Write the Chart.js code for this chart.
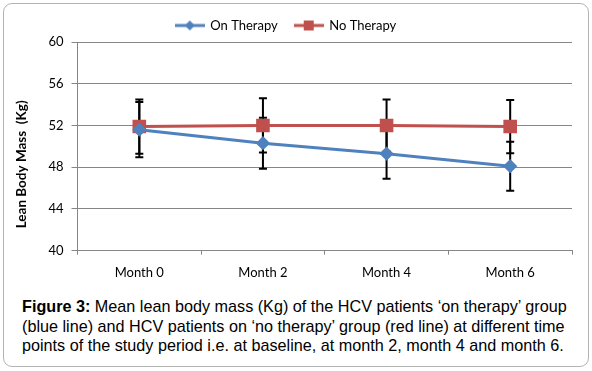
<!DOCTYPE html>
<html>
<head>
<meta charset="utf-8">
<script src="https://cdn.jsdelivr.net/npm/chart.js@4.4.1/dist/chart.umd.min.js"></script>
<style>
  body { margin: 0; background: #fff; width: 592px; height: 371px; position: relative; overflow: hidden; }
  #frame { position: absolute; left: 3px; top: 3px; width: 584px; height: 362px; border: 1px solid #b4b4b4; border-radius: 9px; }
  #chartBox { position: absolute; left: 0; top: 0; width: 592px; height: 295px; }
  #caption { position: absolute; left: 22px; top: 297px; width: 560px; font-family: "Liberation Sans", Arial, sans-serif; font-size: 16.2px; line-height: 19.5px; color: #000; }
</style>
</head>
<body>
<div id="frame"></div>
<div id="chartBox"><canvas id="lbmChart"></canvas></div>
<div id="caption"><b>Figure 3:</b> Mean lean body mass (Kg) of the HCV patients ‘on therapy’ group (blue line) and HCV patients on ‘no therapy’ group (red line) at different time points of the study period i.e. at baseline, at month 2, month 4 and month 6.</div>
<script>
const months = ['Month 0', 'Month 2', 'Month 4', 'Month 6'];
const onTherapy = [51.6, 50.3, 49.3, 48.1];
const onTherapyErr = [2.65, 2.45, 2.4, 2.35];
const noTherapy = [51.9, 52.0, 52.0, 51.9];
const noTherapyErr = [2.6, 2.6, 2.5, 2.55];
const yTitle = 'Lean Body Mass  (Kg)';

const blue = '#4F81BD';
const red = '#C0504D';
const gridGray = '#868686';

// small line+marker pictures for the legend (excel style)
function legendIcon(color, shape) {
    const c = document.createElement('canvas');
    c.width = 30;
    c.height = 12;
    const g = c.getContext('2d');
    g.strokeStyle = color;
    g.lineWidth = 3;
    g.beginPath();
    g.moveTo(0, 6);
    g.lineTo(30, 6);
    g.stroke();
    g.fillStyle = color;
    if (shape === 'diamond') {
        g.beginPath();
        g.moveTo(15, 1); g.lineTo(20, 6); g.lineTo(15, 11); g.lineTo(10, 6);
        g.closePath();
        g.fill();
    } else {
        g.fillRect(10, 1, 10, 10);
    }
    return c;
}
const icons = [legendIcon(blue, 'diamond'), legendIcon(red, 'square')];

// black error bars, drawn under the series
const errorBars = {
    id: 'errorBars',
    beforeDatasetsDraw(chart) {
        const ctx = chart.ctx;
        const xs = chart.scales.x;
        const ys = chart.scales.y;
        ctx.save();
        ctx.strokeStyle = '#000';
        ctx.lineWidth = 2;
        chart.data.datasets.forEach(ds => {
            ds.data.forEach((v, i) => {
                const px = xs.getPixelForValue(i);
                const top = ys.getPixelForValue(v + ds.errors[i]);
                const bot = ys.getPixelForValue(v - ds.errors[i]);
                ctx.beginPath();
                ctx.moveTo(px, top); ctx.lineTo(px, bot);
                ctx.moveTo(px - 4, top); ctx.lineTo(px + 4, top);
                ctx.moveTo(px - 4, bot); ctx.lineTo(px + 4, bot);
                ctx.stroke();
            });
        });
        ctx.restore();
    }
};

// y axis title, sits a bit below the middle like the excel original
const yAxisTitle = {
    id: 'yAxisTitle',
    afterDraw(chart) {
        const ctx = chart.ctx;
        const area = chart.chartArea;
        ctx.save();
        ctx.translate(22, (area.top + area.bottom) / 2 + 18);
        ctx.rotate(-Math.PI / 2);
        ctx.font = 'bold 13.5px Lato';
        ctx.fillStyle = '#000';
        ctx.textAlign = 'center';
        ctx.textBaseline = 'middle';
        ctx.fillText(yTitle, 0, 0);
        ctx.restore();
    }
};

const ctx = document.getElementById('lbmChart').getContext('2d');
new Chart(ctx, {
    type: 'line',
    data: {
        labels: months,
        datasets: [
            {
                label: 'On Therapy',
                data: onTherapy,
                errors: onTherapyErr,
                borderColor: blue,
                backgroundColor: blue,
                borderWidth: 3,
                pointStyle: 'rectRot',
                pointRadius: 5,
                pointHoverRadius: 5
            },
            {
                label: 'No Therapy',
                data: noTherapy,
                errors: noTherapyErr,
                borderColor: red,
                backgroundColor: red,
                borderWidth: 3,
                pointStyle: 'rect',
                pointRadius: 7.5,
                pointHoverRadius: 7.5
            }
        ]
    },
    options: {
        responsive: true,
        maintainAspectRatio: false,
        animation: false,
        layout: { padding: { left: 0, right: 20, top: 2, bottom: 0 } },
        scales: {
            x: {
                offset: true,
                grid: { offset: true, drawOnChartArea: false, tickLength: 4, color: gridGray },
                border: { color: gridGray },
                ticks: { padding: 10, color: '#000', font: { family: 'Lato', size: 13 } },
                afterFit(scale) { scale.height = 44.3; }
            },
            y: {
                min: 40,
                max: 60,
                ticks: { stepSize: 4, padding: 8, color: '#000', font: { family: 'Lato', size: 13 } },
                grid: { color: gridGray, tickLength: 6 },
                border: { color: gridGray },
                afterFit(scale) { scale.width = 77.5; }
            }
        },
        plugins: {
            legend: {
                position: 'top',
                labels: {
                    usePointStyle: true,
                    pointStyleWidth: 28,
                    padding: 17,
                    color: '#000',
                    font: { family: 'Lato', size: 13 },
                    generateLabels(chart) {
                        const items = Chart.defaults.plugins.legend.labels.generateLabels(chart);
                        items.forEach((it, i) => { it.pointStyle = icons[i]; });
                        return items;
                    }
                }
            },
            tooltip: { enabled: false }
        }
    },
    plugins: [errorBars, yAxisTitle]
});
</script>
</body>
</html>
